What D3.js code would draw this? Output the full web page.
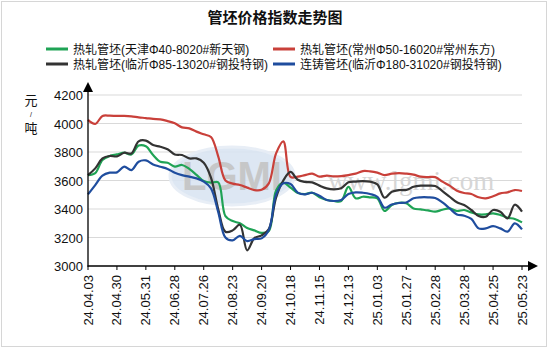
<!DOCTYPE html>
<html><head><meta charset="utf-8">
<script src="https://cdn.jsdelivr.net/npm/d3@7"></script>
<style>body{margin:0;background:#fff}svg{display:block}</style>
</head><body><svg id="c" width="550" height="350"></svg>
<script>
const title = "管坯价格指数走势图";
const seriesNames = ["热轧管坯(天津Φ40-8020#新天钢)","热轧管坯(常州Φ50-16020#常州东方)","热轧管坯(临沂Φ85-13020#钢投特钢)","连铸管坯(临沂Φ180-31020#钢投特钢)"];
const seriesColors = ["#1fa355","#c9403a","#333333","#1f4d9e"];
const xLabels = ["24.04.03","24.04.30","24.05.31","24.06.28","24.07.26","24.08.23","24.09.20","24.10.18","24.11.15","24.12.13","25.01.03","25.01.27","25.02.28","25.03.28","25.04.25","25.05.23"];
const yTicks = [3000,3200,3400,3600,3800,4000,4200];
const tianjin = [3638,3652,3744,3772,3783,3795,3783,3845,3840,3779,3732,3725,3697,3709,3681,3640,
  3596,3585,3587,3350,3315,3300,3267,3250,3232,3245,3530,3585,3550,3512,3505,
  3514,3482,3463,3456,3456,3555,3475,3486,3482,3475,3386,3428,3444,3440,3404,3397,
  3390,3381,3395,3404,3386,3393,3376,3362,3362,3369,3358,3339,3330,3306];
const changzhou = [4025,3997,4053,4055,4053,4053,4050,4043,4038,4032,4029,4017,4001,3973,3966,3943,
  3924,3905,3770,3600,3578,3568,3550,3533,3535,3580,3790,3875,3625,3627,3638,
  3648,3627,3634,3629,3631,3638,3648,3666,3664,3655,3638,3648,3652,3648,3641,3627,
  3624,3624,3592,3564,3528,3512,3505,3482,3475,3489,3510,3517,3533,3526];
const linyiHot = [3638,3685,3755,3772,3769,3795,3790,3875,3880,3849,3837,3819,3783,3779,3755,3755,
  3725,3620,3400,3240,3250,3290,3110,3195,3215,3260,3480,3600,3660,3605,3590,
  3587,3564,3545,3538,3545,3587,3592,3596,3592,3573,3479,3521,3533,3533,3556,3564,
  3564,3561,3526,3486,3447,3428,3393,3351,3346,3393,3381,3334,3430,3381];
const linyiCast = [3503,3568,3634,3655,3657,3697,3673,3732,3741,3713,3697,3681,3655,3638,3627,3615,
  3592,3545,3380,3200,3180,3212,3175,3189,3194,3252,3500,3580,3575,3515,3503,
  3514,3493,3463,3456,3463,3505,3517,3514,3505,3486,3409,3432,3442,3446,3475,3482,
  3482,3477,3446,3404,3362,3353,3330,3264,3264,3280,3264,3241,3299,3257];
const allSeries = [tianjin, changzhou, linyiHot, linyiCast];
const labelStep = 4;

const svg = d3.select("#c");
const font = "'Liberation Sans', Arial, 'Noto Sans CJK SC', sans-serif";
const cjk = "'Noto Sans CJK SC', 'Liberation Sans', sans-serif";

svg.append("rect").attr("x",1.5).attr("y",1.5).attr("width",545).attr("height",345)
  .attr("fill","#fff").attr("stroke","#d6d6d6");

const n = tianjin.length;
const x = d3.scaleLinear().domain([0, n-1]).range([88, 522]);
const y = d3.scaleLinear().domain([3000, 4200]).range([266, 95]);

// grid
svg.append("g").selectAll("line").data(yTicks.slice(1)).join("line")
  .attr("x1",88).attr("x2",522).attr("y1",d=>y(d)).attr("y2",d=>y(d))
  .attr("stroke","#d9d9d9").attr("stroke-width",1);

// watermark
const wm = svg.append("g");
wm.append("ellipse").attr("cx",232).attr("cy",176).attr("rx",62).attr("ry",29)
  .attr("fill","#dae5f2").attr("stroke","#e6edf6").attr("stroke-width",3).attr("opacity",0.9);
wm.append("text").attr("x",232).attr("y",190).attr("text-anchor","middle")
  .attr("font-family","'Liberation Sans', Arial, sans-serif").attr("font-weight","bold").attr("font-size",40)
  .attr("fill","#c4c4c4").attr("opacity",0.9).text("LGMI");
wm.append("text").attr("x",328).attr("y",190)
  .attr("font-family","'Liberation Serif', 'Times New Roman', serif").attr("font-size",27)
  .attr("fill","#d6d6d6").text("www.lgmi.com");

// y tick labels
svg.append("g").selectAll("text").data(yTicks).join("text")
  .attr("x",83).attr("y",d=>y(d)+5).attr("text-anchor","end")
  .attr("font-family",font).attr("font-size",13).attr("fill","#111").text(d=>d);

// x ticks
const tickIdx = xLabels.map((d,i)=>i*labelStep);
svg.append("g").selectAll("line").data(tickIdx).join("line")
  .attr("x1",d=>x(d)).attr("x2",d=>x(d)).attr("y1",266).attr("y2",270)
  .attr("stroke","#000");
svg.append("g").selectAll("text").data(xLabels).join("text")
  .attr("transform",(d,i)=>`translate(${x(i*labelStep)+4.5},275) rotate(-90)`)
  .attr("text-anchor","end").attr("font-family",font).attr("font-size",13).attr("fill","#111").text(d=>d);

// lines
const line = d3.line().x((d,i)=>x(i)).y(d=>y(d)).curve(d3.curveCatmullRom.alpha(0.5));
svg.append("g").selectAll("path").data(allSeries).join("path")
  .attr("d",d=>line(d)).attr("fill","none")
  .attr("stroke",(d,i)=>seriesColors[i]).attr("stroke-width",2.2).attr("stroke-linejoin","round");

// axes
svg.append("line").attr("x1",88).attr("x2",88).attr("y1",266.5).attr("y2",90).attr("stroke","#000").attr("stroke-width",1.3);
svg.append("path").attr("d","M83,92 L93,92 L88,82 Z").attr("fill","#000");
svg.append("line").attr("x1",87.5).attr("x2",530).attr("y1",266).attr("y2",266).attr("stroke","#000").attr("stroke-width",1.3);
svg.append("path").attr("d","M528,261 L528,271 L538,266 Z").attr("fill","#000");

// unit
svg.append("text").attr("x",31).attr("y",105).attr("text-anchor","middle").attr("font-family",cjk).attr("font-size",13).attr("fill","#111").text("元");
svg.append("text").attr("x",31).attr("y",117).attr("text-anchor","middle").attr("font-family",font).attr("font-size",7).attr("fill","#111").text("/");
svg.append("text").attr("x",31).attr("y",133).attr("text-anchor","middle").attr("font-family",cjk).attr("font-size",13).attr("fill","#111").text("吨");

// title
svg.append("text").attr("x",275).attr("y",23).attr("text-anchor","middle")
  .attr("font-family",cjk).attr("font-weight","bold").attr("font-size",15).attr("fill","#111").text(title);

// legend
const legPos = [[46,49],[273,49],[46,64],[273,64]];
const lg = svg.append("g").selectAll("g").data(seriesNames).join("g")
  .attr("transform",(d,i)=>`translate(${legPos[i][0]},${legPos[i][1]})`);
lg.append("line").attr("x1",0).attr("x2",22).attr("y1",0).attr("y2",0)
  .attr("stroke",(d,i)=>seriesColors[i]).attr("stroke-width",3);
lg.append("text").attr("x",27).attr("y",5).attr("font-family",font).attr("font-size",12).attr("fill","#111").text(d=>d);
</script></body></html>
